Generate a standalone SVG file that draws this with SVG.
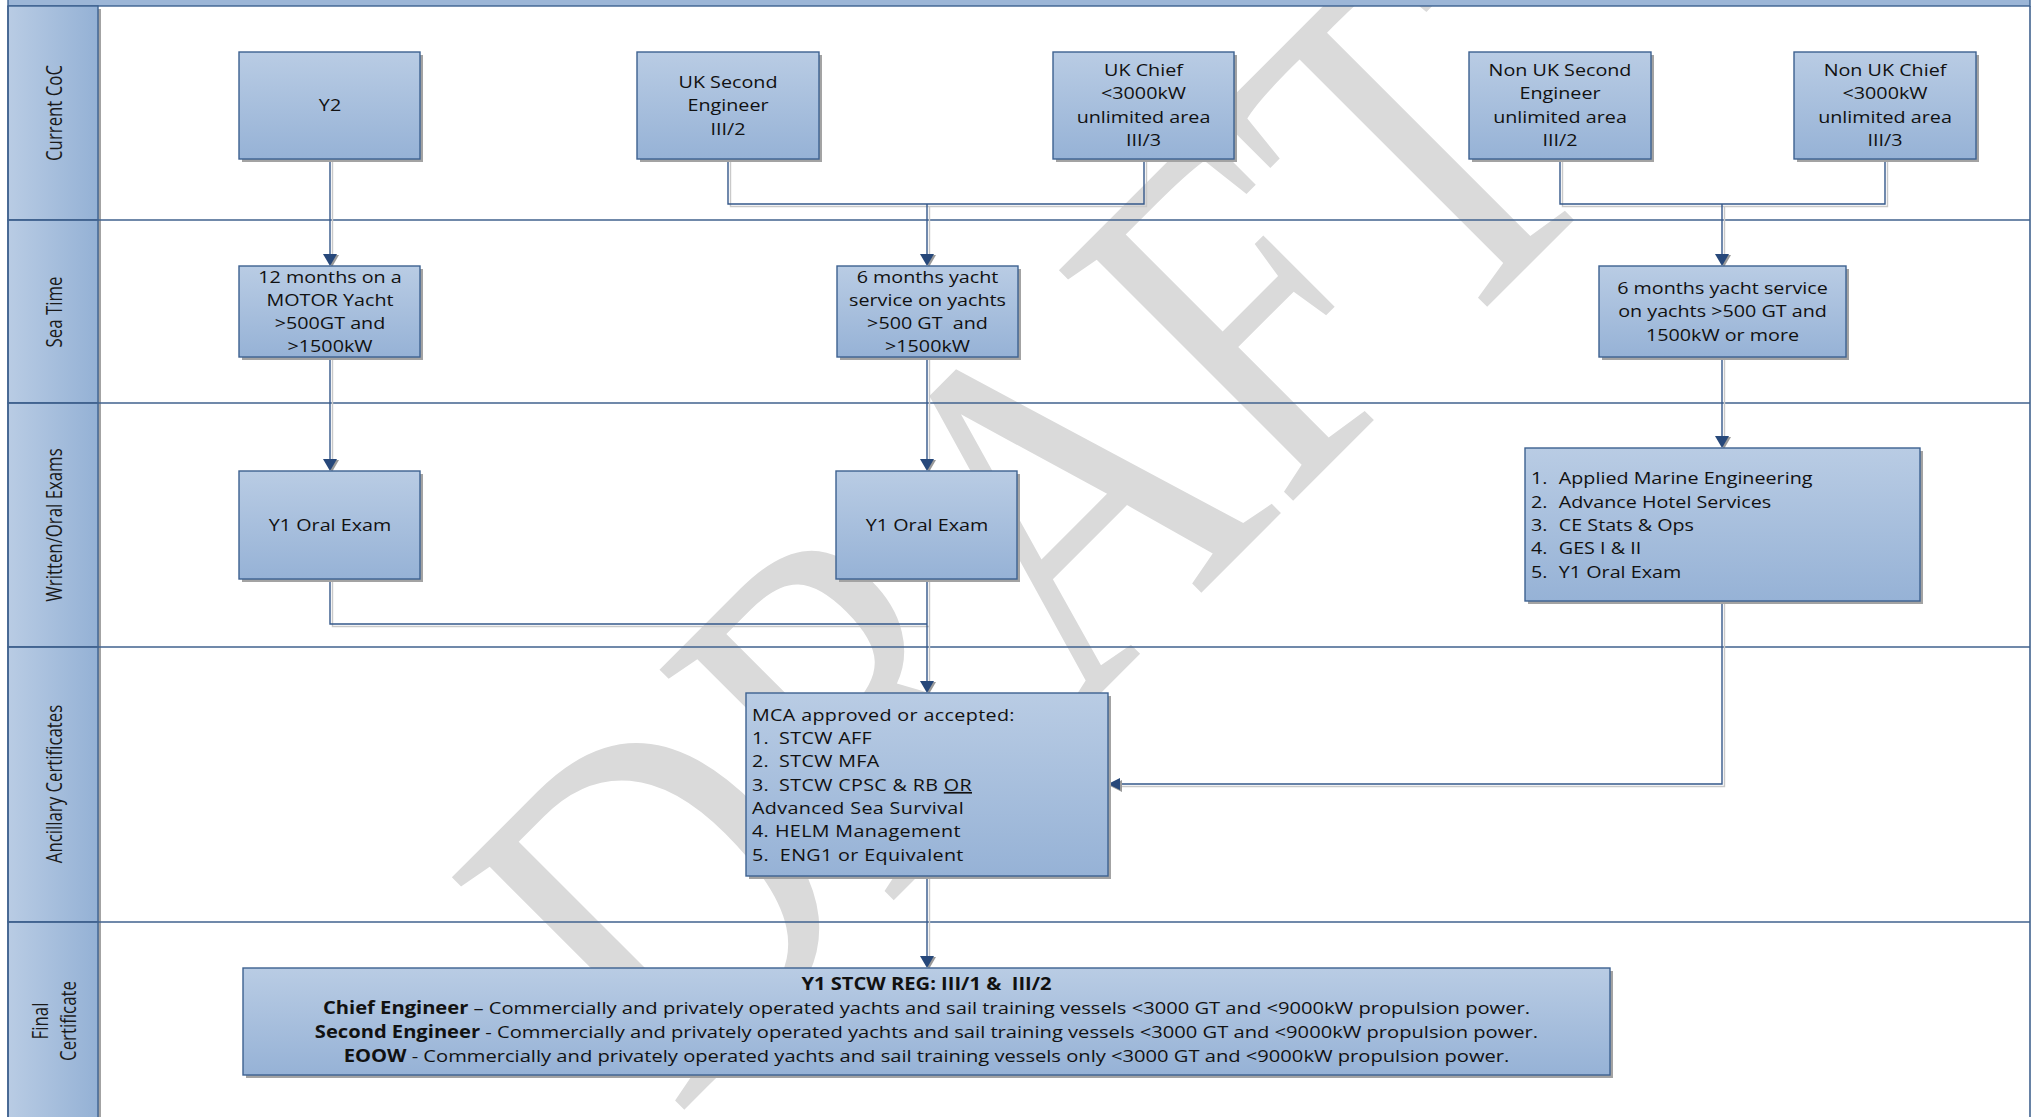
<svg xmlns="http://www.w3.org/2000/svg" width="2031" height="1117" viewBox="0 0 2031 1117">
<defs>
<linearGradient id="gBox" x1="0" y1="0" x2="0" y2="1">
<stop offset="0" stop-color="#b9cce4"/>
<stop offset="1" stop-color="#96b2d6"/>
</linearGradient>
<linearGradient id="gHdr" x1="0" y1="0" x2="1" y2="0">
<stop offset="0" stop-color="#b9cce4"/>
<stop offset="1" stop-color="#94b1d5"/>
</linearGradient>
<path id="ad" d="M0 0 L-7 -12 L7 -12 Z"/>
<path id="al" d="M0 0 L12 -6 L12 6 Z"/>
<style>
.bx{fill:url(#gBox);stroke:#3d6190;stroke-width:1.4}
.sh{fill:#a3a3a3}
.hdr{fill:url(#gHdr);stroke:#3d6190;stroke-width:1.4}
.lane{stroke:#41638f;stroke-width:1.6;fill:none}
.t{font-family:'Open Sans','Liberation Sans',sans-serif;font-size:17px;fill:#111;white-space:pre}
.c{text-anchor:middle}
.b{font-weight:bold}
.u{text-decoration:underline}
.ll{font-family:'Open Sans','Liberation Sans',sans-serif;font-size:16.8px;fill:#1a1a1a;text-anchor:middle}
.cn{fill:none;stroke:#35588a;stroke-width:1.4}
.cs{fill:none;stroke:#c9c9c9;stroke-width:1.4}
.ah{fill:#27487a}
.as{fill:#9a9a9a}
</style>
</defs>
<rect x="0" y="0" width="2031" height="1117" fill="#ffffff"/>

<text transform="translate(676,1118) rotate(-45) scale(0.81,1)" font-family="'Liberation Serif',serif" font-size="502" fill="#dadada">DRAFT</text>

<g id="lanes">
<rect x="8" y="-10" width="2022" height="16" fill="#9cb6d7" stroke="#3d6190" stroke-width="1.4"/>
<rect class="sh" x="11" y="9" width="90" height="214"/>
<rect class="hdr" x="8" y="6" width="90" height="214"/>
<rect class="sh" x="11" y="223" width="90" height="183"/>
<rect class="hdr" x="8" y="220" width="90" height="183"/>
<rect class="sh" x="11" y="406" width="90" height="244"/>
<rect class="hdr" x="8" y="403" width="90" height="244"/>
<rect class="sh" x="11" y="650" width="90" height="275"/>
<rect class="hdr" x="8" y="647" width="90" height="275"/>
<rect class="sh" x="11" y="925" width="90" height="200"/>
<rect class="hdr" x="8" y="922" width="90" height="200"/>
<path class="lane" d="M8 220 H2030 M8 403 H2030 M8 647 H2030 M8 922 H2030 M2030 6 V1117 M8 6 V1117"/>
<g transform="translate(62,113) scale(1.3,1) rotate(-90)"><text class="ll">Current CoC</text></g>
<g transform="translate(62,312) scale(1.3,1) rotate(-90)"><text class="ll">Sea Time</text></g>
<g transform="translate(62,525) scale(1.3,1) rotate(-90)"><text class="ll">Written/Oral Exams</text></g>
<g transform="translate(62,784) scale(1.3,1) rotate(-90)"><text class="ll">Ancillary Certificates</text></g>
<g transform="translate(48,1021) scale(1.3,1) rotate(-90)"><text class="ll">Final</text></g>
<g transform="translate(76,1021) scale(1.3,1) rotate(-90)"><text class="ll">Certificate</text></g>
</g>

<g id="connectors">
<g transform="translate(2.5,2.5)">
<path class="cs" d="M330 159 V256 M728 159 V204 H1144 V159 M927 204 V256 M1560 159 V204 H1885 V159 M1722 204 V256 M330 357 V461 M927 357 V461 M1722 357 V438 M330 579 V624 H927 M927 579 V683 M1722 601 V784 H1118 M927 876 V958"/>
</g>
<path class="cn" d="M330 159 V256 M728 159 V204 H1144 V159 M927 204 V256 M1560 159 V204 H1885 V159 M1722 204 V256 M330 357 V461 M927 357 V461 M1722 357 V438 M330 579 V624 H927 M927 579 V683 M1722 601 V784 H1118 M927 876 V958"/>
<use href="#ad" class="as" x="332" y="267"/><use href="#ad" class="ah" x="330" y="266"/>
<use href="#ad" class="as" x="929" y="267"/><use href="#ad" class="ah" x="927" y="266"/>
<use href="#ad" class="as" x="1724" y="267"/><use href="#ad" class="ah" x="1722" y="266"/>
<use href="#ad" class="as" x="332" y="472"/><use href="#ad" class="ah" x="330" y="471"/>
<use href="#ad" class="as" x="929" y="472"/><use href="#ad" class="ah" x="927" y="471"/>
<use href="#ad" class="as" x="1724" y="449"/><use href="#ad" class="ah" x="1722" y="448"/>
<use href="#ad" class="as" x="929" y="694"/><use href="#ad" class="ah" x="927" y="693"/>
<use href="#al" class="as" x="1110" y="786"/><use href="#al" class="ah" x="1108" y="784"/>
<use href="#ad" class="as" x="929" y="969"/><use href="#ad" class="ah" x="927" y="968"/>
</g>

<g id="n-y2">
<rect class="sh" x="242" y="55" width="181" height="107"/>
<rect class="bx" x="239" y="52" width="181" height="107"/>
<g transform="translate(330,0) scale(1.16,1)"><text class="t c" x="0" y="111">Y2</text></g>
</g>
<g id="n-uk-second">
<rect class="sh" x="640" y="55" width="182" height="107"/>
<rect class="bx" x="637" y="52" width="182" height="107"/>
<g transform="translate(728,0) scale(1.16,1)"><text class="t c" x="0" y="88">UK Second</text><text class="t c" x="0" y="111">Engineer</text><text class="t c" x="0" y="135">III/2</text></g>
</g>
<g id="n-uk-chief">
<rect class="sh" x="1056" y="55" width="181" height="107"/>
<rect class="bx" x="1053" y="52" width="181" height="107"/>
<g transform="translate(1143.5,0) scale(1.16,1)"><text class="t c" x="0" y="76">UK Chief</text><text class="t c" x="0" y="99.5">&lt;3000kW</text><text class="t c" x="0" y="123">unlimited area</text><text class="t c" x="0" y="146">III/3</text></g>
</g>
<g id="n-nonuk-second">
<rect class="sh" x="1472" y="55" width="182" height="107"/>
<rect class="bx" x="1469" y="52" width="182" height="107"/>
<g transform="translate(1560,0) scale(1.16,1)"><text class="t c" x="0" y="76">Non UK Second</text><text class="t c" x="0" y="99.5">Engineer</text><text class="t c" x="0" y="123">unlimited area</text><text class="t c" x="0" y="146">III/2</text></g>
</g>
<g id="n-nonuk-chief">
<rect class="sh" x="1797" y="55" width="182" height="107"/>
<rect class="bx" x="1794" y="52" width="182" height="107"/>
<g transform="translate(1885,0) scale(1.16,1)"><text class="t c" x="0" y="76">Non UK Chief</text><text class="t c" x="0" y="99.5">&lt;3000kW</text><text class="t c" x="0" y="123">unlimited area</text><text class="t c" x="0" y="146">III/3</text></g>
</g>

<g id="n-sea1">
<rect class="sh" x="242" y="269" width="181" height="91"/>
<rect class="bx" x="239" y="266" width="181" height="91"/>
<g transform="translate(330,0) scale(1.16,1)"><text class="t c" x="0" y="283">12 months on a</text><text class="t c" x="0" y="306">MOTOR Yacht</text><text class="t c" x="0" y="329">&gt;500GT and</text><text class="t c" x="0" y="352">&gt;1500kW</text></g>
</g>
<g id="n-sea2">
<rect class="sh" x="840" y="269" width="181" height="91"/>
<rect class="bx" x="837" y="266" width="181" height="91"/>
<g transform="translate(927.5,0) scale(1.16,1)"><text class="t c" x="0" y="283">6 months yacht</text><text class="t c" x="0" y="306">service on yachts</text><text class="t c" x="0" y="329">&gt;500 GT  and</text><text class="t c" x="0" y="352">&gt;1500kW</text></g>
</g>
<g id="n-sea3">
<rect class="sh" x="1602" y="269" width="247" height="91"/>
<rect class="bx" x="1599" y="266" width="247" height="91"/>
<g transform="translate(1722.5,0) scale(1.16,1)"><text class="t c" x="0" y="294">6 months yacht service</text><text class="t c" x="0" y="317">on yachts &gt;500 GT and</text><text class="t c" x="0" y="341">1500kW or more</text></g>
</g>

<g id="n-oral1">
<rect class="sh" x="242" y="474" width="181" height="108"/>
<rect class="bx" x="239" y="471" width="181" height="108"/>
<g transform="translate(330,0) scale(1.16,1)"><text class="t c" x="0" y="531">Y1 Oral Exam</text></g>
</g>
<g id="n-oral2">
<rect class="sh" x="839" y="474" width="181" height="108"/>
<rect class="bx" x="836" y="471" width="181" height="108"/>
<g transform="translate(927,0) scale(1.16,1)"><text class="t c" x="0" y="531">Y1 Oral Exam</text></g>
</g>
<g id="n-exams">
<rect class="sh" x="1528" y="451" width="395" height="153"/>
<rect class="bx" x="1525" y="448" width="395" height="153"/>
<g transform="translate(1531,0) scale(1.16,1)">
<text class="t" y="484"><tspan x="0">1.</tspan><tspan x="24">Applied Marine Engineering</tspan></text>
<text class="t" y="508"><tspan x="0">2.</tspan><tspan x="24">Advance Hotel Services</tspan></text>
<text class="t" y="531"><tspan x="0">3.</tspan><tspan x="24">CE Stats &amp; Ops</tspan></text>
<text class="t" y="554"><tspan x="0">4.</tspan><tspan x="24">GES I &amp; II</tspan></text>
<text class="t" y="578"><tspan x="0">5.</tspan><tspan x="24">Y1 Oral Exam</tspan></text>
</g>
</g>

<g id="n-mca">
<rect class="sh" x="749" y="696" width="362" height="183"/>
<rect class="bx" x="746" y="693" width="362" height="183"/>
<g transform="translate(752,0) scale(1.16,1)">
<text class="t" x="0" y="721" letter-spacing="0.3">MCA approved or accepted:</text>
<text class="t" y="744" letter-spacing="0.3"><tspan x="0">1.</tspan><tspan x="23.3">STCW AFF</tspan></text>
<text class="t" y="767" letter-spacing="0.3"><tspan x="0">2.</tspan><tspan x="23.3">STCW MFA</tspan></text>
<text class="t" y="791" letter-spacing="0.3"><tspan x="0">3.</tspan><tspan x="23.3">STCW CPSC &amp; RB </tspan><tspan class="u">OR</tspan></text>
<text class="t" x="0" y="814" letter-spacing="0.3">Advanced Sea Survival</text>
<text class="t" y="837" letter-spacing="0.3"><tspan x="0">4.</tspan><tspan x="19.8">HELM Management</tspan></text>
<text class="t" y="861" letter-spacing="0.3"><tspan x="0">5.</tspan><tspan x="24">ENG1 or Equivalent</tspan></text>
</g>
</g>

<g id="n-final">
<rect class="sh" x="246" y="971" width="1367" height="107"/>
<rect class="bx" x="243" y="968" width="1367" height="107"/>
<g transform="translate(926.5,0) scale(1.185,1)">
<text class="t c b" x="0" y="990">Y1 STCW REG: III/1 &amp;  III/2</text>
<text class="t c" x="0" y="1014"><tspan class="b">Chief Engineer</tspan> – Commercially and privately operated yachts and sail training vessels &lt;3000 GT and &lt;9000kW propulsion power.</text>
<text class="t c" x="0" y="1038"><tspan class="b">Second Engineer</tspan> - Commercially and privately operated yachts and sail training vessels &lt;3000 GT and &lt;9000kW propulsion power.</text>
<text class="t c" x="0" y="1062"><tspan class="b">EOOW</tspan> - Commercially and privately operated yachts and sail training vessels only &lt;3000 GT and &lt;9000kW propulsion power.</text>
</g>
</g>
</svg>
